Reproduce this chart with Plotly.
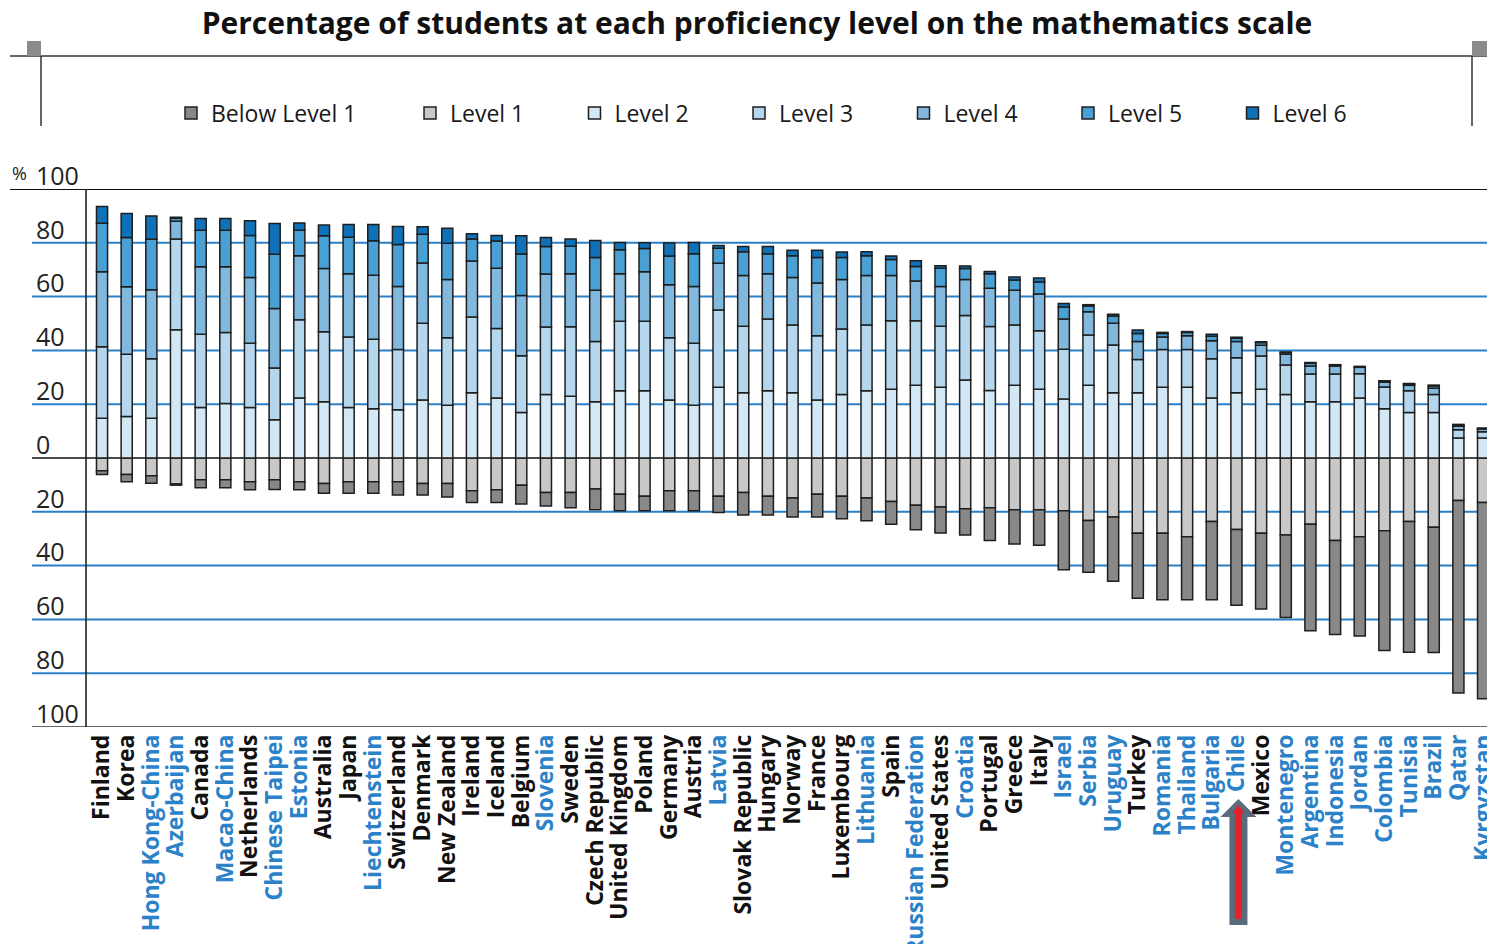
import plotly.graph_objects as go

# ---------------- data ----------------
countries = [
    "Finland", "Korea", "Hong Kong-China", "Azerbaijan", "Canada", "Macao-China",
    "Netherlands", "Chinese Taipei", "Estonia", "Australia", "Japan", "Liechtenstein",
    "Switzerland", "Denmark", "New Zealand", "Ireland", "Iceland", "Belgium",
    "Slovenia", "Sweden", "Czech Republic", "United Kingdom", "Poland", "Germany",
    "Austria", "Latvia", "Slovak Republic", "Hungary", "Norway", "France",
    "Luxembourg", "Lithuania", "Spain", "Russian Federation", "United States", "Croatia",
    "Portugal", "Greece", "Italy", "Israel", "Serbia", "Uruguay",
    "Turkey", "Romania", "Thailand", "Bulgaria", "Chile", "Mexico",
    "Montenegro", "Argentina", "Indonesia", "Jordan", "Colombia", "Tunisia",
    "Brazil", "Qatar", "Kyrgyzstan",
]

partner_countries = [
    "Hong Kong-China", "Azerbaijan", "Macao-China", "Chinese Taipei", "Estonia",
    "Liechtenstein", "Slovenia", "Latvia", "Lithuania", "Russian Federation", "Croatia",
    "Israel", "Serbia", "Uruguay", "Romania", "Thailand", "Bulgaria", "Chile",
    "Montenegro", "Argentina", "Indonesia", "Jordan", "Colombia", "Tunisia",
    "Brazil", "Qatar", "Kyrgyzstan",
]

below_level1 = [1.4, 2.7, 2.8, 0.4, 3.0, 3.0, 3.0, 3.6, 3.0, 3.6, 4.3, 4.3,
                5.0, 4.3, 5.0, 4.3, 4.7, 7.0, 5.0, 5.7, 7.7, 6.1, 5.4, 7.4,
                7.4, 6.1, 8.4, 7.0, 7.0, 8.4, 8.4, 8.4, 8.4, 9.1, 9.7, 9.7,
                12.2, 12.8, 13.2, 21.9, 19.3, 23.9, 24.1, 24.7, 23.4, 29.1, 28.1, 28.1,
                30.7, 39.6, 34.9, 36.9, 44.6, 48.6, 46.6, 71.6, 73.0]
level1 = [4.7, 6.1, 6.6, 9.7, 8.1, 8.1, 8.8, 8.1, 8.8, 9.5, 8.8, 8.8,
          8.8, 9.5, 9.5, 12.2, 11.8, 10.1, 12.8, 12.8, 11.5, 13.5, 14.2, 12.2,
          12.2, 14.2, 12.8, 14.2, 14.9, 13.5, 14.2, 14.9, 16.2, 17.6, 18.2, 18.9,
          18.5, 19.2, 19.2, 19.6, 23.2, 21.9, 28.0, 28.0, 29.3, 23.6, 26.6, 28.0,
          28.6, 24.6, 30.7, 29.3, 27.0, 23.6, 25.7, 15.8, 16.5]
level2 = [14.8, 15.4, 14.8, 47.7, 18.8, 20.3, 18.8, 14.2, 22.3, 20.9, 18.8, 18.3,
          17.9, 21.6, 19.6, 24.3, 22.3, 16.9, 23.6, 23.0, 20.9, 25.0, 25.0, 21.6,
          19.6, 26.3, 24.3, 25.0, 24.3, 21.6, 23.6, 25.0, 25.6, 27.0, 26.3, 29.0,
          25.1, 27.0, 25.6, 21.9, 27.0, 24.3, 24.3, 26.3, 26.3, 22.3, 24.3, 25.6,
          23.6, 20.9, 20.9, 22.3, 18.3, 16.9, 16.9, 7.4, 7.4]
level3 = [26.6, 23.2, 22.1, 33.7, 27.2, 26.4, 23.9, 19.3, 29.1, 26.0, 26.2, 25.8,
          22.4, 28.5, 25.1, 28.1, 25.8, 21.1, 25.1, 25.8, 22.4, 25.8, 25.8, 23.1,
          23.1, 28.7, 24.7, 26.7, 25.1, 23.8, 24.4, 24.4, 25.4, 24.0, 22.7, 24.0,
          23.8, 22.4, 21.7, 18.5, 18.7, 17.7, 12.3, 14.0, 14.0, 14.6, 13.0, 12.3,
          11.0, 10.3, 10.3, 9.0, 8.1, 8.1, 6.7, 3.1, 2.4]
level4 = [27.8, 25.1, 25.6, 6.6, 25.1, 24.4, 24.4, 22.1, 23.8, 23.5, 23.5, 23.8,
          23.5, 22.4, 21.7, 20.8, 22.4, 22.4, 19.7, 19.7, 19.1, 17.7, 18.4, 19.7,
          21.1, 17.4, 18.8, 16.8, 17.7, 19.7, 18.4, 18.4, 16.8, 14.8, 14.8, 13.4,
          14.2, 13.0, 13.7, 11.3, 8.7, 8.1, 6.7, 4.7, 5.1, 6.7, 6.0, 4.0,
          4.0, 3.0, 3.0, 2.4, 1.8, 2.0, 2.3, 1.3, 1.0]
level5 = [18.1, 18.3, 18.8, 1.1, 13.6, 13.6, 15.6, 20.1, 9.5, 12.2, 13.6, 12.9,
          15.6, 10.7, 13.4, 8.2, 10.2, 15.4, 10.2, 10.2, 12.1, 8.9, 8.7, 10.7,
          12.1, 5.6, 8.9, 7.4, 8.1, 9.4, 8.1, 7.4, 6.0, 5.4, 6.7, 4.0,
          5.4, 3.8, 4.4, 4.4, 2.1, 2.7, 3.0, 1.3, 1.3, 1.7, 1.2, 1.0,
          0.6, 1.0, 0.4, 0.3, 0.4, 0.5, 0.9, 0.5, 0.2]
level6 = [6.2, 8.9, 8.7, 0.4, 4.3, 4.3, 5.5, 11.5, 2.7, 4.0, 4.7, 6.0,
          6.7, 2.8, 5.6, 2.0, 2.0, 6.8, 3.4, 2.7, 6.4, 2.7, 2.1, 4.8,
          4.2, 1.0, 1.9, 2.7, 2.0, 2.7, 2.1, 1.5, 1.3, 2.1, 1.0, 1.0,
          0.8, 1.1, 1.5, 1.3, 0.5, 0.6, 1.3, 0.4, 0.3, 0.7, 0.4, 0.3,
          0.2, 0.3, 0.1, 0.0, 0.1, 0.2, 0.3, 0.2, 0.1]

ytick_values = [100, 80, 60, 40, 20, 0, -20, -40, -60, -80, -100]
ytick_labels = ["100", "80", "60", "40", "20", "0", "20", "40", "60", "80", "100"]
gridline_values = [80, 60, 40, 20, -20, -40, -60, -80]

title_text = "Percentage of students at each proficiency level on the mathematics scale"

# ---------------- styling ----------------
W, H = 1487, 944
ML, MR, MT, MB = 32, 0, 189, 217
PW, PH = W - ML - MR, H - MT - MB
AXIS_LEFT_PX = 86
XRANGE = [-0.65, 56.16]

BLUE_TEXT = "#2b82c8"
GRID_BLUE = "#2a80c6"
OUTLINE = "#1e1e1e"
FONT = "Open Sans"

colors = {
    "Below Level 1": "#888888",
    "Level 1": "#c8c8c8",
    "Level 2": "#d2e8f5",
    "Level 3": "#b5d7ee",
    "Level 4": "#80b8de",
    "Level 5": "#49a0d4",
    "Level 6": "#0f72b8",
}


def px_x(px):
    return (px - ML) / PW


def px_y(py):
    return (H - MB - py) / PH


xs = list(range(len(countries)))
ticktext = [
    f'<span style="color:{BLUE_TEXT}">{c}</span>' if c in partner_countries else c
    for c in countries
]

# trace order matters for relative stacking: nearest to zero first
series = [
    ("Level 1", level1, -1, 2, "legend2"),
    ("Below Level 1", below_level1, -1, 1, "legend"),
    ("Level 2", level2, 1, 3, "legend2"),
    ("Level 3", level3, 1, 4, "legend2"),
    ("Level 4", level4, 1, 5, "legend2"),
    ("Level 5", level5, 1, 6, "legend2"),
    ("Level 6", level6, 1, 7, "legend2"),
]

fig = go.Figure()
for name, vals, sign, rank, leg in series:
    fig.add_trace(go.Bar(
        x=xs, y=[sign * v for v in vals], name=name, legendrank=rank, legend=leg,
        showlegend=True, width=0.45, textposition="none",
        marker=dict(color=colors[name], line=dict(color=OUTLINE, width=1.5)),
        customdata=[[c, v] for c, v in zip(countries, vals)],
        hovertemplate="%{customdata[0]}<br>" + name + ": %{customdata[1]}%<extra></extra>",
    ))

shapes = []
for v in gridline_values:
    shapes.append(dict(type="line", xref="paper", yref="y", x0=0, x1=1, y0=v, y1=v,
                       line=dict(color=GRID_BLUE, width=2), layer="below"))
# zero line
shapes.append(dict(type="line", xref="paper", yref="y", x0=0, x1=1, y0=0, y1=0,
                   line=dict(color="#111111", width=1.6), layer="below"))
# top (100 %) line
shapes.append(dict(type="line", xref="paper", yref="y", x0=px_x(10), x1=1, y0=100, y1=100,
                   line=dict(color="#111111", width=1.8), layer="below"))
# bottom (100 %) line
shapes.append(dict(type="line", xref="paper", yref="y", x0=0, x1=1, y0=-100, y1=-100,
                   line=dict(color="#666666", width=1.8), layer="below"))
# left axis line
shapes.append(dict(type="line", xref="x domain", yref="y", x0=0, x1=0, y0=-100, y1=100,
                   line=dict(color="#222222", width=1.6), layer="below"))
# header bracket around the legend
shapes.append(dict(type="line", xref="paper", yref="paper", x0=px_x(10), x1=px_x(W + 5),
                   y0=px_y(56), y1=px_y(56), line=dict(color="#333333", width=1.6)))
for xp in (41, 1472):
    shapes.append(dict(type="line", xref="paper", yref="paper", x0=px_x(xp), x1=px_x(xp),
                       y0=px_y(56), y1=px_y(126), line=dict(color="#333333", width=1.5)))
for x0p, x1p in ((27, 41), (1472, 1490)):
    shapes.append(dict(type="rect", xref="paper", yref="paper", x0=px_x(x0p), x1=px_x(x1p),
                       y0=px_y(56), y1=px_y(41), fillcolor="#8a8a8a", line=dict(width=0)))

# highlight arrow under Chile
ci = countries.index("Chile")
units_per_px = (XRANGE[1] - XRANGE[0]) / (PW * (1 - px_x(AXIS_LEFT_PX)))
cx = ci + 2 * units_per_px
hw, sw = 18 * units_per_px, 9 * units_per_px
yb, yh, yt = px_y(925), px_y(817), px_y(799)
shapes.append(dict(
    type="path", xref="x", yref="paper",
    path=(f"M {cx - sw},{yb} L {cx + sw},{yb} L {cx + sw},{yh} L {cx + hw},{yh} "
          f"L {cx},{yt} L {cx - hw},{yh} L {cx - sw},{yh} Z"),
    fillcolor="#5b6b7e", line=dict(width=0)))
shapes.append(dict(type="line", xref="x", yref="paper", x0=cx, x1=cx,
                   y0=px_y(919), y1=px_y(812), line=dict(color="#e8202a", width=7)))
rw = 6 * units_per_px
shapes.append(dict(
    type="path", xref="x", yref="paper",
    path=f"M {cx - rw},{px_y(813)} L {cx},{px_y(805)} L {cx + rw},{px_y(813)} Z",
    fillcolor="#e8202a", line=dict(width=0)))

legend_common = dict(orientation="h", yanchor="middle", y=px_y(113), xanchor="left",
                     font=dict(family=FONT, size=23, color="#1a1a1a"),
                     bgcolor="rgba(0,0,0,0)", traceorder="normal", visible=True,
                     itemclick=False, itemdoubleclick=False)

fig.update_layout(
    width=W, height=H,
    margin=dict(l=ML, r=MR, t=MT, b=MB, autoexpand=False),
    paper_bgcolor="white", plot_bgcolor="rgba(0,0,0,0)",
    barmode="relative", showlegend=True,
    font=dict(family=FONT, color="#1a1a1a"),
    title=dict(text=title_text, x=757 / W, xanchor="center", y=1 - 23 / H, yanchor="middle",
               xref="container", yref="container",
               font=dict(family=FONT, size=30, weight="bold", color="#111111")),
    legend=dict(x=px_x(171), **legend_common),
    legend2=dict(x=px_x(410), entrywidth=119.5, **legend_common),
    xaxis=dict(domain=[px_x(AXIS_LEFT_PX), 1], range=XRANGE, tickmode="array", tickvals=xs,
               ticktext=ticktext, tickangle=-90, showgrid=False, zeroline=False, showline=False,
               ticks="", ticklabelstandoff=2, automargin=False, ticklabeloverflow="allow",
               tickfont=dict(family=FONT, size=23, weight="bold", color="#111111")),
    yaxis=dict(range=[-100, 100], anchor="free", position=0, side="right", tickmode="array",
               tickvals=ytick_values, ticktext=ytick_labels, showgrid=False, zeroline=False,
               showline=False, ticks="", ticklabelstandoff=3, ticklabelshift=-13,
               automargin=False, tickfont=dict(family=FONT, size=25, color="#222222")),
    shapes=shapes,
    annotations=[dict(text="%", xref="paper", yref="paper", x=px_x(19), y=px_y(173),
                      xanchor="center", yanchor="middle", showarrow=False,
                      font=dict(family=FONT, size=18, color="#222222"))],
)

fig.write_html(
    "out.html",
    config={"displayModeBar": False},
    post_script="document.body.style.margin='0';document.body.style.overflow='hidden';",
)
